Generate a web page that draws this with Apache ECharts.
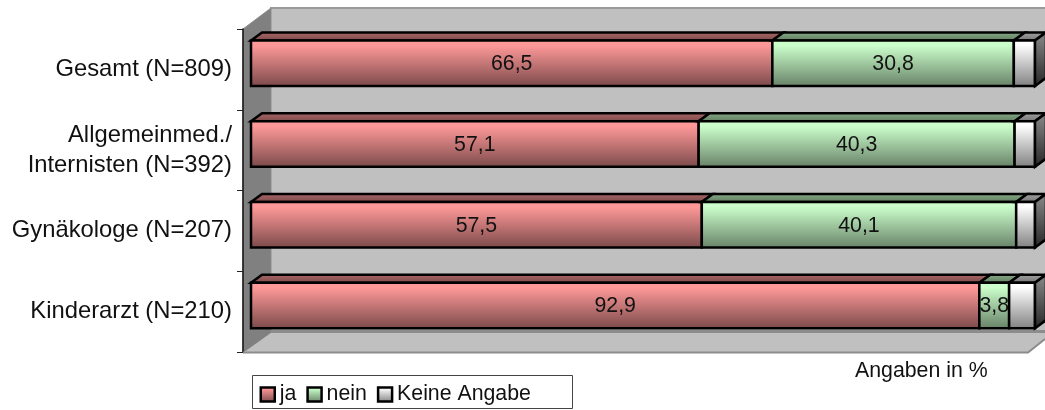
<!DOCTYPE html>
<html><head><meta charset="utf-8">
<style>html,body{margin:0;padding:0;background:#fff}#c{width:1045px;height:410px}</style>
<script src="https://cdn.jsdelivr.net/npm/echarts@6/dist/echarts.min.js"></script>
</head><body><div id="c"></div>
<script>
const categories = ['Gesamt (N=809)', 'Allgemeinmed./\nInternisten (N=392)', 'Gynäkologe (N=207)', 'Kinderarzt (N=210)'];
const ja = [66.5, 57.1, 57.5, 92.9];
const nein = [30.8, 40.3, 40.1, 3.8];
const keine = [2.7, 2.6, 2.4, 3.3];
const FONT = '"Liberation Sans", Arial, sans-serif';
const FS_AXIS = 23.8, FS = 21.3;

function vgrad(a, b) {
  return new echarts.graphic.LinearGradient(0, 0, 0, 1, [{offset: 0, color: a}, {offset: 0.12, color: a}, {offset: 1, color: b}]);
}
const styles = {
  ja:    {front: ['#ff9999', '#7a4949'], top: '#a86565', topDark: '#7a4949'},
  nein:  {front: ['#ccffcc', '#668066'], top: '#86a886', topDark: '#5c7a5c'},
  keine: {front: ['#ffffff', '#7f7f7f'], top: '#a0a0a0', topDark: '#707070'}
};
const SHIFT_X = 8, SHIFT_Y = -6.2, DEPTH_X = 11, DEPTH_Y = 8, LW = 2.5;

function bar(key, showLabel, showSide) {
  const s = styles[key];
  return function (params, api) {
    const p0 = api.coord([api.value(0), api.value(2)]);
    const p1 = api.coord([api.value(1), api.value(2)]);
    const h = 45.5;
    const x0 = p0[0] + SHIFT_X, x1 = p1[0] + SHIFT_X;
    const y0 = p0[1] + SHIFT_Y - h / 2, y1 = y0 + h;
    const line = {stroke: '#000', lineWidth: LW, lineJoin: 'miter'};
    const children = [
      {type: 'polygon', shape: {points: [[x0, y0], [x0 + DEPTH_X, y0 - DEPTH_Y], [x1 + DEPTH_X, y0 - DEPTH_Y], [x1, y0]]},
       style: Object.assign({fill: vgrad(s.top, s.topDark)}, line)},
      {type: 'rect', shape: {x: x0, y: y0, width: x1 - x0, height: h},
       style: Object.assign({fill: vgrad(s.front[0], s.front[1])}, line)}
    ];
    if (showSide) {
      children.push({type: 'polygon', shape: {points: [[x1, y0], [x1 + DEPTH_X, y0 - DEPTH_Y], [x1 + DEPTH_X, y1 - DEPTH_Y], [x1, y1]]},
        style: Object.assign({fill: vgrad('#7f7f7f', '#262626')}, line)});
    }
    if (showLabel) {
      children.push({type: 'text', style: {text: String(api.value(3)).replace('.', ','), x: (x0 + x1) / 2, y: (y0 + y1) / 2 + 1,
        align: 'center', verticalAlign: 'middle', font: FS + 'px ' + FONT, fill: '#111'}});
    }
    return {type: 'group', children};
  };
}

function rows(values, before) {
  return values.map((v, i) => {
    const start = before.reduce((sum, arr) => sum + arr[i], 0);
    return [start, start + v, i, v];
  });
}
function series(name, key, values, before, showLabel, showSide) {
  return {name, type: 'custom', renderItem: bar(key, showLabel, showSide), data: rows(values, before),
    encode: {x: [0, 1], y: 2}, clip: false, z: 5,
    itemStyle: {color: styles[key].front[0]}};
}
const legendItem = (name, key, rightPad) => ({name, icon: 'rect',
  textStyle: {padding: [0, rightPad, 0, 0]},
  itemStyle: {color: vgrad(styles[key].front[0], styles[key].front[1]), borderColor: '#000', borderWidth: 2.5}});

const chart = echarts.init(document.getElementById('c'), null, {renderer: 'canvas'});
chart.setOption({
  animation: false,
  backgroundColor: '#fff',
  grid: {left: 243, top: 29, width: 784, height: 323, containLabel: false},
  xAxis: {type: 'value', min: 0, max: 100, show: false},
  yAxis: {type: 'category', inverse: true, data: categories,
    axisLine: {show: true, lineStyle: {color: '#111', width: 1.5}},
    axisTick: {show: true, length: 6, alignWithLabel: false, lineStyle: {color: '#222', width: 1}},
    axisLabel: {color: '#111', fontFamily: FONT, fontSize: FS_AXIS, margin: 11, lineHeight: 30, align: 'right', padding: [3, 0, 0, 0]}},
  legend: {left: 252, top: 384, itemWidth: 14, itemHeight: 14, itemGap: 10, padding: [0, 0, 0, 7.5],
    selectedMode: false,
    textStyle: {fontFamily: FONT, fontSize: FS, color: '#111'},
    data: [legendItem('ja', 'ja', 3), legendItem('nein', 'nein', 0), legendItem('Keine Angabe', 'keine', 0)]},
  graphic: [
    {type: 'polygon', silent: true, z: 0, shape: {points: [[271, 8], [1045, 8], [1045, 333], [271, 333]]},
     style: {fill: '#c0c0c0'}},
    {type: 'rect', silent: true, z: 0, shape: {x: 270, y: 7, width: 775, height: 2}, style: {fill: '#9a9a9a'}},
    {type: 'polygon', silent: true, z: 0, shape: {points: [[243, 29], [271, 8], [271, 333], [243, 353]]},
     style: {fill: '#808080', stroke: '#8c8c8c', lineWidth: 1}},
    {type: 'polygon', silent: true, z: 0, shape: {points: [[243, 353], [271, 333], [1045, 333], [1045, 339], [1028, 353]]},
     style: {fill: '#c0c0c0'}},
    {type: 'polyline', silent: true, z: 1, shape: {points: [[243, 352.5], [1028, 352.5], [1045, 339]]},
     style: {stroke: '#8c8c8c', lineWidth: 2, fill: null}},
    {type: 'rect', silent: true, z: 1, shape: {x: 271, y: 330, width: 774, height: 3}, style: {fill: '#8c8c8c'}},
    {type: 'rect', silent: true, z: 1, shape: {x: 252.5, y: 375.5, width: 320, height: 33},
     style: {fill: '#fff', stroke: '#444', lineWidth: 1}},
    {type: 'text', silent: true, z: 2, style: {text: 'Angaben in %', x: 855, y: 371, verticalAlign: 'middle',
      font: FS + 'px ' + FONT, fill: '#111'}}
  ],
  series: [
    series('ja', 'ja', ja, [], true, false),
    series('nein', 'nein', nein, [ja], true, false),
    series('Keine Angabe', 'keine', keine, [ja, nein], false, true)
  ]
});
</script></body></html>
